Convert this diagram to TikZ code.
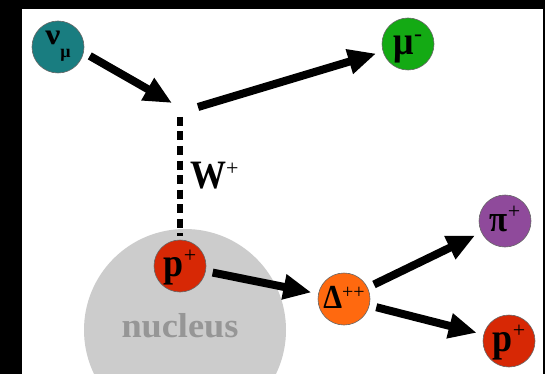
\documentclass[tikz,border=0pt]{standalone}
\usepackage{fontspec}
\setmainfont{Liberation Serif}
\usepackage{graphicx}
\usetikzlibrary{arrows.meta}
\definecolor{cnu}{RGB}{25,125,128}
\definecolor{cmu}{RGB}{20,170,20}
\definecolor{cpi}{RGB}{143,74,155}
\definecolor{cp}{RGB}{215,40,5}
\definecolor{cdel}{RGB}{255,105,15}
\definecolor{cnuc}{RGB}{204,204,204}
\definecolor{cnuctext}{RGB}{150,150,150}
\newcommand\bigt[2]{\scalebox{1}[1.12]{\fontsize{#1}{#1}\selectfont #2}}
\newcommand\supt[3]{\raisebox{#1}{\fontsize{#2}{#2}\selectfont\mdseries #3}}
\tikzset{
  particle/.style={circle, draw=black!60, line width=0.6pt, minimum size=52pt, inner sep=0pt},
  plabel/.style={anchor=base, inner sep=0pt, font=\bfseries},
  arr/.style={line width=8pt, -{Triangle[length=28pt,width=24pt]}, shorten >=7pt, shorten <=7pt},
  wline/.style={line width=6pt, dash pattern=on 9pt off 5.5pt},
}
\begin{document}
\begin{tikzpicture}[x=1pt,y=-1pt]
\useasboundingbox (0,0) rectangle (545,374);
\fill[black] (0,0) rectangle (545,374);
\fill[white] (22,9) rectangle (543,374);
\begin{scope}
\clip (22,9) rectangle (543,374);
\node[circle, fill=cnuc, minimum size=202pt, inner sep=0pt] (nucleus) at (185,330) {};
\end{scope}
\node[text=cnuctext, font=\bfseries, anchor=base, inner sep=0pt] (nuclab) at (180,337) {\scalebox{1.1}[1.05]{\fontsize{33}{33}\selectfont nucleus}};

\node[particle, fill=cnu] (nu) at (58,47) {};
\node[particle, fill=cmu] (mu) at (408,44) {};
\node[particle, fill=cp] (p1) at (180,266) {};
\node[particle, fill=cdel] (delta) at (344,299) {};
\node[particle, fill=cpi] (pi) at (505,221) {};
\node[particle, fill=cp] (p2) at (509,341) {};

\node[plabel] (nut) at ([yshift=2pt]nu.center) {\scalebox{1.2}[1.05]{\fontsize{28}{28}\selectfont ν}\raisebox{-13pt}{\fontsize{18}{18}\selectfont μ}};
\node[plabel] (mut) at ([yshift=-11pt]mu.center) {\bigt{36}{μ}\supt{13pt}{24}{-}};
\node[plabel] (p1t) at ([yshift=-10pt]p1.center) {\bigt{36}{p}\supt{14pt}{22}{+}};
\node[plabel] (deltat) at ([yshift=-9pt]delta.center) {\bigt{30}{Δ}\supt{10pt}{20}{++}};
\node[plabel] (pit) at ([yshift=-10pt]pi.center) {\bigt{33}{π}\supt{13pt}{22}{+}};
\node[plabel] (p2t) at ([yshift=-10pt]p2.center) {\bigt{36}{p}\supt{14pt}{22}{+}};

\coordinate (v1) at (172,103);
\coordinate (v2) at (198,107);
\coordinate (w) at (180,117);

\draw[arr, shorten >=0pt] (nu.-12) -- (v1);
\draw[arr, shorten <=0pt] (v2) -- (mu);
\draw[wline] (w) -- ([yshift=4pt]p1.north);
\node[anchor=base west, font=\bfseries, inner sep=0pt] (wlab) at (190,188) {\bigt{36}{W}\supt{13pt}{22}{+}};

\draw[arr] (p1) -- (delta);
\draw[arr] (delta) -- (pi);
\draw[arr] (delta) -- (p2);
\end{tikzpicture}
\end{document}
